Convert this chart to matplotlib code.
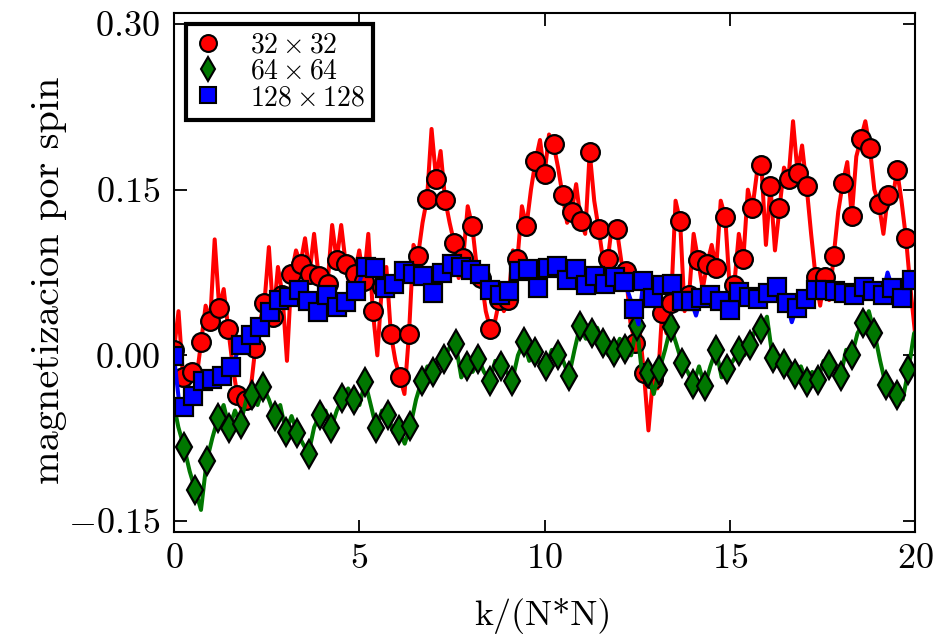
import numpy as np
import matplotlib
matplotlib.use("Agg")
import matplotlib.pyplot as plt
from matplotlib.lines import Line2D
from matplotlib.ticker import FuncFormatter

plt.rcParams.update({
    "font.family": "serif",
    "font.serif": ["cmr10"],
    "mathtext.fontset": "cm",
    "axes.formatter.use_mathtext": True,
})

# ---------------------------------------------------------------------------
# Magnetisation per spin vs. k/(N*N) for three lattice sizes.
# Each series is sampled on a uniform grid; markers sit on every other sample.
# ---------------------------------------------------------------------------
x_label = "k/(N*N)"
y_label = "magnetizacion por spin"
x_ticks = [0, 5, 10, 15, 20]
y_ticks = [-0.15, 0.00, 0.15, 0.30]
series_labels = [r"$32 \times 32$", r"$64 \times 64$", r"$128 \times 128$"]

# 32 x 32 lattice
red_start, red_dx = 0.0, 20 / 164
red_marks = [0.005, -0.020, -0.015, 0.012, 0.031, 0.043, 0.024, -0.036, -0.040, 0.007,
             0.047, 0.035, 0.055, 0.074, 0.083, 0.074, 0.072, 0.065, 0.086, 0.083,
             0.074, 0.067, 0.040, 0.062, 0.019, -0.020, 0.019, 0.090, 0.142, 0.160,
             0.141, 0.102, 0.088, 0.117, 0.070, 0.024, 0.050, 0.050, 0.087, 0.117,
             0.176, 0.164, 0.191, 0.145, 0.130, 0.122, 0.184, 0.114, 0.087, 0.114,
             0.076, 0.011, -0.016, -0.021, 0.038, 0.047, 0.122, 0.055, 0.086, 0.083,
             0.079, 0.125, 0.064, 0.087, 0.133, 0.172, 0.153, 0.133, 0.160, 0.165,
             0.153, 0.071, 0.071, 0.090, 0.156, 0.126, 0.196, 0.188, 0.137, 0.145,
             0.168, 0.106]
red_between = [0.040, -0.030, -0.020, 0.045, 0.105, 0.060, -0.010, -0.050, -0.030, 0.030,
               0.098, 0.080, -0.005, 0.095, 0.106, 0.110, 0.055, 0.118, 0.118, 0.060,
               0.095, 0.110, 0.000, 0.080, -0.005, -0.035, 0.100, 0.120, 0.205, 0.185,
               0.120, 0.070, 0.135, 0.080, 0.040, 0.030, 0.040, 0.095, 0.135, 0.150,
               0.195, 0.200, 0.170, 0.120, 0.155, 0.110, 0.140, 0.085, 0.120, 0.085,
               0.030, 0.025, -0.068, -0.030, 0.020, 0.140, 0.040, 0.110, 0.060, 0.100,
               0.140, 0.060, 0.110, 0.150, 0.165, 0.100, 0.095, 0.170, 0.212, 0.190,
               0.110, 0.045, 0.050, 0.130, 0.175, 0.180, 0.212, 0.150, 0.110, 0.140,
               0.140, 0.060]
red_tail = [0.020]

# 64 x 64 lattice
green_start, green_dx = -0.0355, 0.15275
green_lead = [-0.040, -0.065]
green_marks = [-0.083, -0.122, -0.096, -0.057, -0.066, -0.062, -0.036, -0.029, -0.055, -0.069,
               -0.070, -0.089, -0.054, -0.066, -0.039, -0.040, -0.024, -0.066, -0.054, -0.068,
               -0.064, -0.023, -0.015, -0.003, 0.010, -0.010, -0.003, -0.023, -0.010, -0.023,
               0.012, 0.003, -0.010, 0.000, -0.019, 0.027, 0.020, 0.011, 0.003, 0.006,
               0.027, -0.016, -0.013, 0.026, -0.007, -0.026, -0.028, 0.005, -0.012, 0.004,
               0.009, 0.024, -0.002, -0.008, -0.017, -0.024, -0.022, -0.009, -0.019, 0.000,
               0.029, 0.020, -0.027, -0.036, -0.013]
green_between = [-0.105, -0.140, -0.075, -0.045, -0.050, -0.040, -0.045, -0.040, -0.045, -0.055,
                 -0.080, -0.065, -0.050, -0.050, -0.030, -0.045, -0.045, -0.050, -0.070, -0.080,
                 -0.040, -0.010, -0.005, 0.008, -0.020, -0.015, -0.015, -0.005, -0.015, 0.000,
                 -0.005, -0.010, 0.005, -0.005, 0.005, 0.015, 0.025, 0.000, 0.015, 0.000,
                 -0.020, -0.035, 0.005, 0.010, -0.015, -0.010, -0.010, -0.020, -0.005, 0.000,
                 0.025, 0.035, -0.005, -0.010, -0.010, -0.015, -0.005, -0.010, 0.005, 0.020,
                 0.040, -0.005, -0.030, -0.040, 0.020]
green_tail = [0.025]

# 128 x 128 lattice
blue_start, blue_dx = 0.0, 0.12925
blue_marks = [-0.001, -0.047, -0.037, -0.023, -0.021, -0.019, -0.011, 0.009, 0.018, 0.026,
              0.039, 0.050, 0.053, 0.059, 0.049, 0.039, 0.055, 0.044, 0.048, 0.058,
              0.080, 0.079, 0.061, 0.065, 0.076, 0.074, 0.072, 0.056, 0.075, 0.083,
              0.080, 0.077, 0.074, 0.059, 0.055, 0.058, 0.076, 0.078, 0.061, 0.079,
              0.081, 0.068, 0.078, 0.064, 0.072, 0.065, 0.071, 0.066, 0.042, 0.067,
              0.052, 0.064, 0.065, 0.049, 0.049, 0.052, 0.055, 0.049, 0.041, 0.057,
              0.053, 0.051, 0.056, 0.062, 0.047, 0.043, 0.051, 0.059, 0.059, 0.058,
              0.056, 0.055, 0.062, 0.058, 0.055, 0.061, 0.052, 0.068]
blue_between = [-0.040, -0.045, -0.030, -0.025, -0.018, -0.020, 0.000, 0.010, 0.024, 0.030,
                0.045, 0.050, 0.058, 0.052, 0.042, 0.048, 0.050, 0.046, 0.054, 0.070,
                0.082, 0.070, 0.062, 0.072, 0.075, 0.074, 0.064, 0.066, 0.080, 0.082,
                0.078, 0.076, 0.066, 0.055, 0.056, 0.068, 0.077, 0.070, 0.070, 0.086,
                0.074, 0.073, 0.072, 0.068, 0.066, 0.068, 0.068, 0.055, 0.028, 0.058,
                0.058, 0.066, 0.056, 0.049, 0.036, 0.054, 0.052, 0.045, 0.050, 0.055,
                0.052, 0.054, 0.060, 0.056, 0.030, 0.048, 0.056, 0.060, 0.058, 0.057,
                0.055, 0.058, 0.060, 0.056, 0.075, 0.056, 0.060, 0.070]


def interleave(marks, between):
    out = np.empty(len(marks) + len(between))
    out[0::2] = marks
    out[1::2] = between
    return out


red_y = np.concatenate([interleave(red_marks, red_between), red_tail])
green_y = np.concatenate([green_lead, interleave(green_marks, green_between), green_tail])
blue_y = interleave(blue_marks, blue_between)

red_x = red_start + red_dx * np.arange(len(red_y))
green_x = green_start + green_dx * np.arange(len(green_y))
blue_x = blue_start + blue_dx * np.arange(len(blue_y))

red_every = list(range(0, 2 * len(red_marks), 2))
green_every = list(range(len(green_lead), len(green_lead) + 2 * len(green_marks), 2))
blue_every = list(range(0, 2 * len(blue_marks), 2))

fig = plt.figure(figsize=(9.34, 6.37), dpi=100)
ax = fig.add_axes([0.1863, 0.1648, 0.7934, 0.8148])

styles = [
    dict(color="#ff0000", marker="o", ms=13.5),
    dict(color="#007700", marker="d", ms=14),
    dict(color="#0000ff", marker="s", ms=12.5),
]
for (x, y, every), st in zip([(red_x, red_y, red_every),
                              (green_x, green_y, green_every),
                              (blue_x, blue_y, blue_every)], styles):
    ax.plot(x, y, color=st["color"], lw=2.9, marker=st["marker"], ms=st["ms"],
            mfc=st["color"], mec="black", mew=1.6, markevery=every)

ax.set_xlim(0, 20)
ax.set_ylim(-0.16, 0.31)
ax.set_xticks(x_ticks)
ax.set_yticks(y_ticks)
ax.yaxis.set_major_formatter(FuncFormatter(lambda v, _: f"${v:.2f}$"))
ax.xaxis.set_major_formatter(FuncFormatter(lambda v, _: f"${v:g}$"))
ax.tick_params(direction="in", length=9, width=1.3, top=True, right=True, labelsize=26)
ax.tick_params(axis="y", pad=10)
ax.tick_params(axis="x", pad=8)
for sp in ax.spines.values():
    sp.set_linewidth(1.5)

ax.set_xlabel(x_label, fontsize=26)
ax.set_ylabel(y_label, fontsize=29)
ax.xaxis.set_label_coords(0.498, -0.128)
ax.yaxis.set_label_coords(-0.145, 0.485)

handles = [Line2D([], [], ls="none", marker=st["marker"], ms=st["ms"] * 0.9,
                  mfc=st["color"], mec="black", mew=1.5) for st in styles]
leg = ax.legend(handles, series_labels, loc="upper left", bbox_to_anchor=(0.016, 0.979),
                borderaxespad=0, fontsize=20, labelspacing=0.0, handlelength=1.0,
                handletextpad=1.0, borderpad=0.3, fancybox=False, framealpha=1,
                edgecolor="black")
leg.get_frame().set_linewidth(3)

fig.savefig("out.png", dpi=100)
